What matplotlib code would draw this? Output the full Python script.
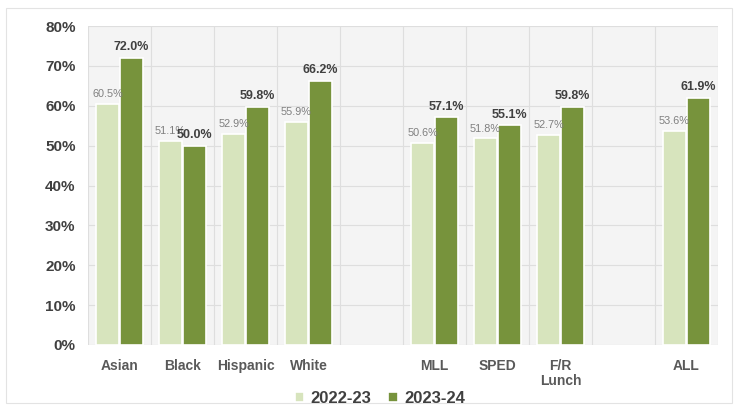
import matplotlib
matplotlib.use("Agg")
import matplotlib.pyplot as plt
from matplotlib.patches import Rectangle
import numpy as np

plt.rcParams['font.family'] = ['Liberation Sans', 'DejaVu Sans']

categories = ["Asian", "Black", "Hispanic", "White", "", "MLL", "SPED", "F/R\nLunch", "", "ALL"]
vals_2223 = [60.5, 51.1, 52.9, 55.9, None, 50.6, 51.8, 52.7, None, 53.6]
vals_2324 = [72.0, 50.0, 59.8, 66.2, None, 57.1, 55.1, 59.8, None, 61.9]
series_names = ["2022-23", "2023-24"]
yticks = [0, 10, 20, 30, 40, 50, 60, 70, 80]

light = "#d7e4bd"
dark = "#77933c"

fig = plt.figure(figsize=(7.38, 4.09), dpi=100)
fig.patch.set_facecolor("white")
fig.patches.append(Rectangle((6/738, 1 - 403/409), 726/738, 395/409, transform=fig.transFigure,
                             fill=False, edgecolor="#e3e3e3", linewidth=0.8))
ax = fig.add_axes([88/738, 1 - 345/409, 630/738, 319/409])
ax.set_facecolor("#f4f4f4")

x = np.arange(len(categories))
w = 0.37
off = 0.19
for i, (a, b) in enumerate(zip(vals_2223, vals_2324)):
    if a is None:
        continue
    ax.bar(x[i] - off, a, width=w, color=light, edgecolor="white", linewidth=1.2, zorder=3,
           label=series_names[0] if i == 0 else None)
    ax.bar(x[i] + off, b, width=w, color=dark, edgecolor="white", linewidth=1.2, zorder=3,
           label=series_names[1] if i == 0 else None)
    ax.text(x[i] - off, a + 1.2, f"{a:.1f}%", ha="center", va="bottom", fontsize=7.8,
            color="#7f7f7f", zorder=4)
    ax.text(x[i] + off, b + 1.2, f"{b:.1f}%", ha="center", va="bottom", fontsize=9,
            fontweight="bold", color="#404040", zorder=4)

ax.set_xlim(-0.5, len(categories) - 0.5)
ax.set_ylim(0, 80)
ax.set_yticks(yticks)
ax.set_yticklabels([f"{t}%" for t in yticks], fontsize=11, fontweight="bold", color="#404040")
ax.set_xticks(x)
ax.set_xticklabels(categories, fontsize=10, fontweight="bold", color="#595959", linespacing=1.1)
ax.tick_params(axis="x", length=0, pad=10)
ax.tick_params(axis="y", length=0, pad=9)

for t in yticks:
    ax.axhline(t, color="#dedede", linewidth=0.8, zorder=1)
for k in range(len(categories) + 1):
    ax.axvline(k - 0.5, color="#dedede", linewidth=0.8, zorder=1)
for s in ax.spines.values():
    s.set_visible(False)

leg = fig.legend(loc="lower center", bbox_to_anchor=(0.515, -0.03), ncol=2, frameon=False,
                 handlelength=0.55, handleheight=0.55, handletextpad=0.4, columnspacing=1.0,
                 prop={"size": 12, "weight": "bold"})
for txt in leg.get_texts():
    txt.set_color("#404040")

fig.savefig("out.png", dpi=100)
